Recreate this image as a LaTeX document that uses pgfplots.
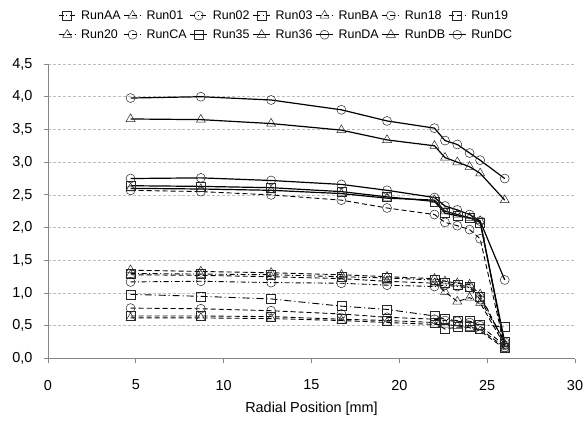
\documentclass[border=0pt]{standalone}
\usepackage{pgfplots}
\pgfplotsset{compat=1.18}
\usepackage{pgfplotstable}
\usepackage{fontspec}
\setmainfont{Liberation Sans}

\pgfplotstableread{
x    AA   R01  R02  R03  BA   R18  R19  R20  CA   R35  R36  DA   DB   DC
4.7  1.30 1.35 1.17 0.98 1.28 0.77 0.65 0.62 2.57 2.64 2.60 2.75 3.66 3.98
8.7  1.29 1.33 1.18 0.95 1.27 0.76 0.65 0.62 2.55 2.63 2.59 2.76 3.65 4.00
12.7 1.28 1.31 1.16 0.91 1.25 0.73 0.64 0.61 2.50 2.61 2.57 2.72 3.59 3.95
16.7 1.25 1.28 1.15 0.80 1.22 0.68 0.60 0.58 2.42 2.55 2.52 2.66 3.49 3.80
19.3 1.23 1.25 1.12 0.75 1.18 0.63 0.58 0.55 2.30 2.47 2.45 2.57 3.34 3.63
22.0 1.20 1.22 1.10 0.65 1.15 0.60 0.55 0.52 2.20 2.40 2.42 2.46 3.25 3.52
22.6 1.15 1.18 1.12 0.60 1.02 0.58 0.45 0.52 2.08 2.22 2.25 2.33 3.07 3.33
23.3 1.12 1.15 1.10 0.58 0.87 0.57 0.48 0.50 2.03 2.18 2.20 2.27 3.00 3.27
24.0 1.10 1.13 1.08 0.57 0.93 0.55 0.48 0.47 1.97 2.15 2.15 2.20 2.93 3.14
24.6 0.95 0.98 0.90 0.52 0.85 0.50 0.45 0.42 1.83 2.08 2.10 2.10 2.83 3.03
26.0 0.25 0.22 0.25 0.48 0.20 0.20 0.17 0.15 0.17 0.25 0.20 1.20 2.42 2.75
}\data

\definecolor{axgray}{RGB}{134,134,134}
\definecolor{grdgray}{RGB}{190,190,190}

\begin{document}
\begin{tikzpicture}
\begin{axis}[
  scale only axis,
  width=527bp, height=294.5bp,
  xmin=0, xmax=30, ymin=0, ymax=4.5,
  xtick={0,5,...,30},
  ytick={0,0.5,...,4.5},
  axis x line*=bottom, axis y line*=left,
  axis line style={axgray, line width=0.8bp},
  tick style={axgray, line width=0.8bp},
  tick align=outside,
  major tick length=4bp,
  ymajorgrids,
  grid style={grdgray, densely dashed, line width=0.6bp},
  tick label style={font=\fontsize{14.5}{16}\selectfont},
  /pgf/number format/assume math mode=true,
  yticklabel style={/pgf/number format/.cd, use comma, fixed, fixed zerofill, precision=1, /tikz/.cd, xshift=-8bp},
  xticklabel style={yshift=-14bp},
  xlabel={Radial Position [mm]},
  xlabel style={font=\fontsize{14.5}{16}\selectfont, yshift=-5bp},
  legend columns=7,
  legend style={draw=none, fill=none, at={(0.452,1.196)}, anchor=north,
    font=\fontsize{12.5}{14}\selectfont, column sep=3bp, row sep=5bp,
    /tikz/every even column/.append style={column sep=1bp}},
  legend cell align=left,
  every axis plot/.append style={black},
  mark options={solid, line width=0.5bp, draw=black!85, fill=none},
]
\pgfplotsset{
  dd/.style={line width=0.9bp, dash pattern=on 5bp off 2.5bp on 1bp off 2.5bp},
  dsh/.style={line width=0.9bp, dash pattern=on 5bp off 3bp},
  sol/.style={line width=1.2bp, solid},
}
\addplot[dd, mark=square, mark size=4.5bp] table[x=x,y=AA]{\data};
\addlegendentry{RunAA}
\addplot[dsh, mark=triangle, mark size=5.2bp] table[x=x,y=R01]{\data};
\addlegendentry{Run01}
\addplot[dd, mark=o, mark size=4.5bp] table[x=x,y=R02]{\data};
\addlegendentry{Run02}
\addplot[line width=0.9bp, dash pattern=on 7bp off 3bp on 1bp off 3bp, mark=square, mark size=4.5bp] table[x=x,y=R03]{\data};
\addlegendentry{Run03}
\addplot[dsh, mark=triangle, mark size=5.2bp] table[x=x,y=BA]{\data};
\addlegendentry{RunBA}
\addplot[dsh, mark=o, mark size=4.5bp] table[x=x,y=R18]{\data};
\addlegendentry{Run18}
\addplot[dsh, mark=square, mark size=4.5bp] table[x=x,y=R19]{\data};
\addlegendentry{Run19}
\addplot[dsh, mark=triangle, mark size=5.2bp] table[x=x,y=R20]{\data};
\addlegendentry{Run20}
\addplot[dsh, mark=o, mark size=4.5bp] table[x=x,y=CA]{\data};
\addlegendentry{RunCA}
\addplot[sol, mark=square, mark size=4.5bp] table[x=x,y=R35]{\data};
\addlegendentry{Run35}
\addplot[sol, mark=triangle, mark size=5.2bp] table[x=x,y=R36]{\data};
\addlegendentry{Run36}
\addplot[sol, mark=o, mark size=4.5bp] table[x=x,y=DA]{\data};
\addlegendentry{RunDA}
\addplot[sol, mark=triangle, mark size=5.2bp] table[x=x,y=DB]{\data};
\addlegendentry{RunDB}
\addplot[sol, mark=o, mark size=4.5bp] table[x=x,y=DC]{\data};
\addlegendentry{RunDC}
\end{axis}
\pgfresetboundingbox
\path[use as bounding box] (current axis.origin) ++(-48bp,-62.5bp) rectangle ++(584bp,421bp);
\end{tikzpicture}
\end{document}
